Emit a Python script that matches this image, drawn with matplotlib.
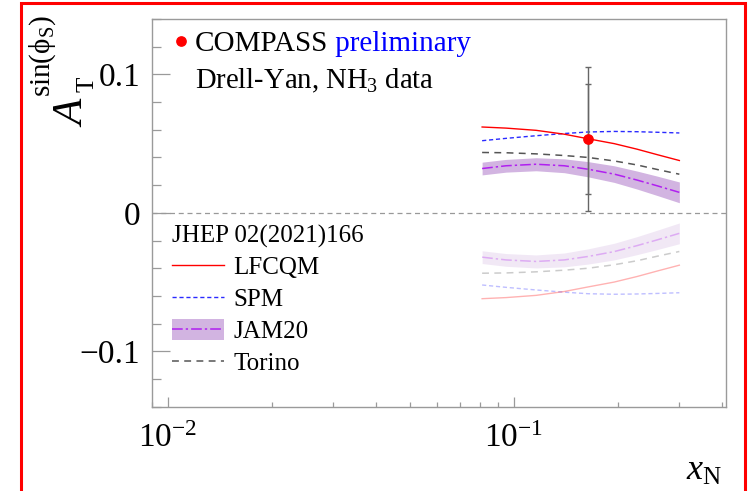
import numpy as np
import matplotlib
matplotlib.use("Agg")
import matplotlib.pyplot as plt
from matplotlib.lines import Line2D
from matplotlib.patches import Patch, Rectangle
from matplotlib.ticker import FixedLocator, FixedFormatter, MultipleLocator, NullFormatter, LogFormatterSciNotation

# --- data ---
x_model = [0.081, 0.095, 0.116, 0.14, 0.164, 0.195, 0.227, 0.26, 0.301]
lfcqm = [0.0620, 0.0612, 0.0596, 0.0568, 0.0535, 0.0500, 0.0460, 0.0420, 0.0378]
spm = [0.0521, 0.0538, 0.0557, 0.0573, 0.0584, 0.0588, 0.0586, 0.0582, 0.0577]
torino = [0.0436, 0.0434, 0.0426, 0.0414, 0.0400, 0.0375, 0.0346, 0.0313, 0.0279]
jam20 = [0.0320, 0.0340, 0.0351, 0.0340, 0.0315, 0.0280, 0.0237, 0.0195, 0.0148]
jam20_err = [0.0046, 0.0046, 0.0047, 0.0050, 0.0055, 0.0060, 0.0065, 0.0070, 0.0075]

compass_x = [0.164]
compass_y = [0.0533]
compass_stat = [0.040]
compass_tot = [0.052]

y_ticks = [-0.1, 0.0, 0.1]
y_ticklabels = ["\u22120.1", "0", "0.1"]

plt.rcParams['font.family'] = ['Liberation Serif', 'DejaVu Serif']
plt.rcParams['mathtext.fontset'] = 'custom'
plt.rcParams['mathtext.rm'] = 'Liberation Serif'
plt.rcParams['mathtext.it'] = 'Liberation Serif:italic'

red = '#ff0000'
blue = '#2a2aff'
grey = '#555555'
violet = '#b020f0'
band = '#d2b4e1'
frame = '#9a9a9a'

W, H = 749, 491
fig = plt.figure(figsize=(7.49, 4.91), dpi=100)
ax = fig.add_axes([0.2029, 0.1717, 0.7661, 0.7896])

x = np.array(x_model)
jam_lo = np.array(jam20) - np.array(jam20_err)
jam_hi = np.array(jam20) + np.array(jam20_err)

# upper curves (full colour) and mirrored lower curves (faded)
for sgn, a in [(1, 1.0), (-1, 0.3)]:
    ax.fill_between(x, sgn * jam_lo, sgn * jam_hi, color=band, alpha=a, lw=0)
    ax.plot(x, sgn * np.array(jam20), color=violet, lw=1.1, dashes=(7, 2, 1.5, 2), alpha=a)
    ax.plot(x, sgn * np.array(torino), color=grey, lw=1.1, dashes=(4.5, 3.5), alpha=a)
    ax.plot(x, sgn * np.array(spm), color=blue, lw=1.0, dashes=(3, 2), alpha=a)
    ax.plot(x, sgn * np.array(lfcqm), color=red, lw=1.0, alpha=a)

ax.axhline(0, color='#999999', lw=0.9, dashes=(4, 3), zorder=1)

# COMPASS point: total and statistical error bars
ax.errorbar(compass_x, compass_y, yerr=compass_tot, fmt='none', ecolor='#666666',
            elinewidth=1.0, capsize=2.5, capthick=1.0)
ax.errorbar(compass_x, compass_y, yerr=compass_stat, fmt='none', ecolor='#666666',
            elinewidth=1.0, capsize=2.5, capthick=1.0)
ax.plot(compass_x, compass_y, 'o', color=red, ms=6.7, mec=red, zorder=5)

ax.set_xscale('log')
ax.set_xlim(0.0090, 0.41)
ax.set_ylim(-0.14, 0.14)

ax.yaxis.set_major_locator(FixedLocator(y_ticks))
ax.yaxis.set_major_formatter(FixedFormatter(y_ticklabels))
ax.yaxis.set_minor_locator(MultipleLocator(0.02))
ax.xaxis.set_major_formatter(LogFormatterSciNotation())
ax.xaxis.set_minor_formatter(NullFormatter())

ax.tick_params(axis='y', which='major', direction='in', length=12.7, width=0.9,
               color=frame, labelsize=24, pad=8.6, right=False)
ax.tick_params(axis='y', which='minor', direction='in', length=6.2, width=0.9,
               color=frame, right=False)
ax.tick_params(axis='x', which='major', direction='in', length=7.2, width=0.9,
               color=frame, labelsize=24, pad=12, top=False)
ax.tick_params(axis='x', which='minor', direction='in', length=3.6, width=0.9,
               color=frame, top=False)
for sp in ax.spines.values():
    sp.set_color(frame)
    sp.set_linewidth(1.0)

# legend for models
handles = [
    Line2D([], [], color=red, lw=1.0),
    Line2D([], [], color=blue, lw=1.0, dashes=(3, 2)),
    (Patch(facecolor=band, edgecolor='none'), Line2D([], [], color=violet, lw=1.1, dashes=(7, 2, 1.5, 2))),
    Line2D([], [], color=grey, lw=1.1, dashes=(4.5, 3.5)),
]
labels = ['LFCQM', 'SPM', 'JAM20', 'Torino']
leg = ax.legend(handles, labels, title='JHEP 02(2021)166', loc='upper left',
                bbox_to_anchor=(0.035, 0.470), frameon=False, fontsize=18,
                title_fontsize=18, handlelength=2.06, handleheight=0.88,
                handletextpad=0.39, labelspacing=0.32, borderpad=0,
                borderaxespad=0, alignment='left')
ax.add_artist(leg)

# COMPASS legend entry
leg2 = ax.legend([Line2D([], [], ls='none', marker='o', color=red, ms=6.7)], ['COMPASS'],
                 loc='upper left', bbox_to_anchor=(0.035, 0.9695), frameon=False,
                 fontsize=21, handlelength=0.6, handletextpad=0.19, borderpad=0,
                 borderaxespad=0)
ax.annotate(' preliminary', xy=(1, 0), xycoords=leg2.get_texts()[0], va='bottom',
            ha='left', fontsize=21, color='#0000ff', zorder=10)
ax.text(0.075, 0.8212, 'Drell-Yan, NH$_3$ data', transform=ax.transAxes,
        fontsize=20.6, ha='left', va='baseline')

# y axis title, ROOT style: A_T with a raised sin(phi_S)
ykw = dict(rotation=90, rotation_mode='anchor', ha='left', va='baseline')
fig.text(82 / W, 1 - 127 / H, r'$A$', fontsize=31, **ykw)
fig.text(93 / W, 1 - 92 / H, 'T', fontsize=18, **ykw)
fig.text(50 / W, 1 - 97 / H, 'sin(\u03d5$_{\\mathrm{S}}$)', fontsize=21, **ykw)
fig.text(722 / W, 1 - 480 / H, r'$x_{\mathrm{N}}$', ha='right', va='baseline', fontsize=26)

# red frame around the pad
fig.patches.append(Rectangle((21 / W, -0.1), (744.5 - 21) / W, 1.1 - 3 / H,
                             transform=fig.transFigure, fill=False, edgecolor='red',
                             lw=2.2, clip_on=False))

fig.savefig('out.png', dpi=100)
